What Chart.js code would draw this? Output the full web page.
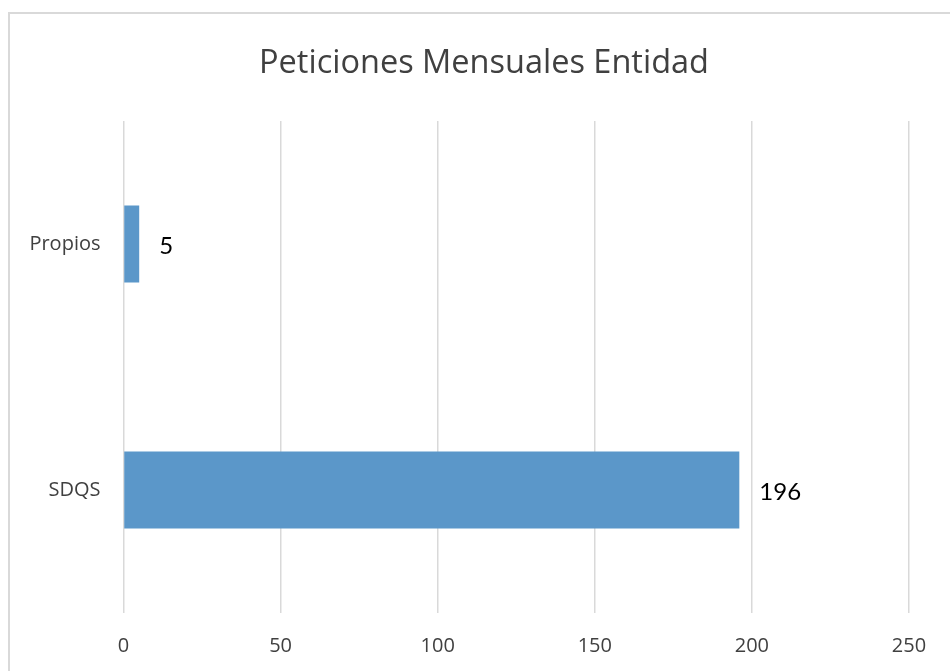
<!DOCTYPE html>
<html>
<head>
<meta charset="utf-8">
<script src="https://cdn.jsdelivr.net/npm/chart.js@4.4.1/dist/chart.umd.min.js"></script>
<style>
    html, body { margin: 0; padding: 0; background: #fff; }
    #wrap { width: 950px; height: 671px; position: relative; }
</style>
</head>
<body>
<div id="wrap"><canvas id="chart"></canvas></div>
<script>
// Chart data
const categories = ['Propios', 'SDQS'];
const peticiones = [5, 196];
const xTicks = [0, 50, 100, 150, 200, 250];
const chartTitle = 'Peticiones Mensuales Entidad';

const barBlue = '#5b97c9';
const gridGray = '#d9d9d9';
const textGray = '#404040';

// Outer frame like the spreadsheet chart border
const framePlugin = {
    id: 'frame',
    beforeDraw(chart) {
        const ctx = chart.ctx;
        ctx.save();
        ctx.fillStyle = '#fff';
        ctx.fillRect(0, 0, chart.width, chart.height);
        ctx.strokeStyle = gridGray;
        ctx.lineWidth = 2;
        ctx.strokeRect(9, 13, chart.width + 20, chart.height + 20);
        ctx.restore();
    }
};

// Title centred over the frame rather than the plot
const titlePlugin = {
    id: 'frameTitle',
    afterDraw(chart) {
        const ctx = chart.ctx;
        ctx.save();
        ctx.font = '32.5px "Open Sans", sans-serif';
        ctx.fillStyle = textGray;
        ctx.textAlign = 'center';
        ctx.textBaseline = 'middle';
        ctx.fillText(chartTitle, 484, 64);
        ctx.restore();
    }
};

// Value labels at the end of each bar
const valueLabels = {
    id: 'valueLabels',
    afterDatasetsDraw(chart) {
        const ctx = chart.ctx;
        const meta = chart.getDatasetMeta(0);
        ctx.save();
        ctx.font = '24px Lato, "Open Sans", sans-serif';
        ctx.fillStyle = '#000';
        ctx.textAlign = 'left';
        ctx.textBaseline = 'middle';
        meta.data.forEach((bar, i) => {
            ctx.fillText(String(peticiones[i]), bar.x + 20, bar.y + 2);
        });
        ctx.restore();
    }
};

new Chart(document.getElementById('chart'), {
    type: 'bar',
    data: {
        labels: categories,
        datasets: [{
            data: peticiones,
            backgroundColor: barBlue,
            borderWidth: 0,
            categoryPercentage: 1,
            barPercentage: 0.314
        }]
    },
    options: {
        indexAxis: 'y',
        responsive: true,
        maintainAspectRatio: false,
        animation: false,
        layout: {
            padding: { left: 0, right: 41, top: 121, bottom: 0 }
        },
        plugins: {
            legend: { display: false },
            tooltip: { enabled: false },
            title: { display: false }
        },
        scales: {
            x: {
                min: 0,
                max: 250,
                afterBuildTicks: (scale) => {
                    scale.ticks = xTicks.map(v => ({ value: v }));
                },
                afterFit: (scale) => { scale.height = 58; },
                grid: { color: gridGray, lineWidth: 1.5, drawTicks: false },
                border: { display: false },
                ticks: {
                    color: textGray,
                    padding: 21,
                    font: { family: '"Open Sans", sans-serif', size: 20 }
                }
            },
            y: {
                afterFit: (scale) => { scale.width = 123.5; },
                grid: { display: false, drawTicks: false },
                border: { display: false },
                ticks: {
                    color: textGray,
                    padding: 23,
                    font: { family: '"Open Sans", sans-serif', size: 20 }
                }
            }
        }
    },
    plugins: [framePlugin, titlePlugin, valueLabels]
});
</script>
</body>
</html>
